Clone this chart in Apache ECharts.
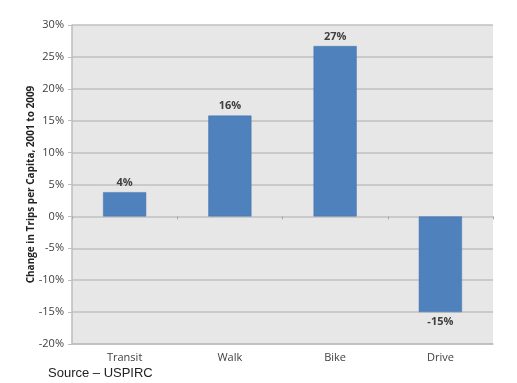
<!DOCTYPE html>
<html><head><meta charset="utf-8">
<script src="https://cdn.jsdelivr.net/npm/echarts@6/dist/echarts.min.js"></script>
<style>html,body{margin:0;padding:0;background:#fff}#c{width:517px;height:383px}</style>
</head><body><div id="c"></div>
<script>
var categories = ['Transit', 'Walk', 'Bike', 'Drive'];
var values = [3.8, 15.8, 26.7, -15.0];
var valueLabels = ['4%', '16%', '27%', '-15%'];
var yTicks = [-20, -15, -10, -5, 0, 5, 10, 15, 20, 25, 30];
var yTitle = 'Change in Trips per Capita, 2001 to 2009';
var sourceText = 'Source \u2013 USPIRC';

var chart = echarts.init(document.getElementById('c'));
var font = '"Open Sans", "Liberation Sans", sans-serif';
var barData = values.map(function (v, i) {
  return v < 0 ? { value: v, label: { position: 'bottom' } } : v;
});
chart.setOption({
  animation: false,
  backgroundColor: '#ffffff',
  grid: { left: 72, right: 24, top: 25, bottom: 39, show: true, backgroundColor: '#e7e7e7', borderWidth: 0 },
  xAxis: [{
    type: 'category', data: categories,
    axisLine: { onZero: false, lineStyle: { color: '#bdbdbd', width: 1.5 } },
    axisTick: { show: false },
    axisLabel: { color: '#404040', fontSize: 11, fontFamily: font, margin: 8 }
  }, {
    type: 'category', data: categories, position: 'bottom',
    axisLine: { show: false, onZero: true },
    axisTick: { show: true, length: 3, lineStyle: { color: '#a8a8a8' } },
    axisLabel: { show: false }, splitLine: { show: false }
  }],
  yAxis: {
    type: 'value', min: yTicks[0], max: yTicks[yTicks.length - 1], interval: 5,
    name: yTitle, nameLocation: 'middle', nameGap: 36, nameMoveOverlap: false,
    nameTextStyle: { color: '#222', fontSize: 10, fontWeight: 'bold', fontFamily: font },
    axisLine: { show: true, lineStyle: { color: '#bdbdbd', width: 1.5 } },
    axisTick: { show: true, length: 4, lineStyle: { color: '#bdbdbd' } },
    axisLabel: { color: '#404040', fontSize: 11, fontFamily: font, margin: 8, formatter: '{value}%' },
    splitLine: { lineStyle: { color: '#c0c0c0', width: 1.5 } }
  },
  series: [{
    type: 'bar', data: barData, barWidth: '41%', xAxisIndex: 0,
    itemStyle: { color: '#4f81bd', borderColor: '#4573ad', borderWidth: 0.5 },
    label: {
      show: true, fontSize: 11, fontWeight: 'bold', color: '#404040', fontFamily: font, distance: 4,
      position: 'top',
      formatter: function (p) { return valueLabels[p.dataIndex]; }
    }
  }],
  graphic: [{
    type: 'text', left: 48, top: 367,
    style: { text: sourceText, fill: '#222', fontSize: 13, fontFamily: '"Liberation Sans", Arial, sans-serif' }
  }]
});
</script></body></html>
